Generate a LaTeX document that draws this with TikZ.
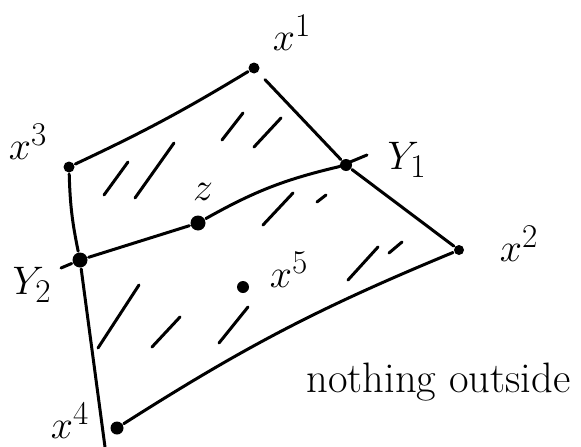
\documentclass[tikz,border=0pt]{standalone}
\usetikzlibrary{positioning}
\newcommand\handlbl[1]{\scalebox{1.6}{$#1$}}

\begin{document}
\begin{tikzpicture}[x=1pt, y=-1pt,
    line width=3pt, line cap=round, line join=round,
    pt/.style={circle, fill, inner sep=0pt, minimum size=11pt},
    lbl/.style={font=\Huge, inner sep=0pt},
    note/.style={font=\Huge, inner sep=0pt, anchor=base west},
    hatch/.style={line width=3pt}]
    \useasboundingbox (0,0) rectangle (581,447);
    \node[pt] (x1) at (254,68) {};
    \node[pt, minimum size=10pt] (x2) at (459,250) {};
    \node[pt] (x3) at (69,167) {};
    \node[pt, minimum size=13pt] (x4) at (117,428) {};
    \node[pt, minimum size=12pt] (x5) at (243,287) {};
    \node[pt, minimum size=12pt] (y1) at (346,165) {};
    \node[pt, minimum size=15pt] (y2) at (80,260) {};
    \node[pt, minimum size=15pt] (z) at (198,223) {};
    \coordinate (y1tick) at (367,155);
    \coordinate (y2tick) at (61,268);
    \coordinate (bot) at (105,447);
    \node[lbl] (lx1) at (292,33) {\handlbl{x^1}};
    \node[lbl] (lx2) at (519,244) {\handlbl{x^2}};
    \node[lbl] (lx3) at (28,142) {\handlbl{x^3}};
    \node[lbl] (lx4) at (70,421) {\handlbl{x^4}};
    \node[lbl] (lx5) at (289,270) {\handlbl{x^5}};
    \node[lbl] (ly1) at (407,160) {\handlbl{Y_1}};
    \node[lbl] (ly2) at (32,285) {\handlbl{Y_2}};
    \node[lbl] (lz) at (203,192) {\handlbl{z}};
    \node[note] (nothing) at (305,392) {\scalebox{1.71}{nothing outside}};
    \draw (x3) to[bend right=3] (x1);
    \draw[shorten <=9pt] (x1) -- (y1);
    \draw (y1) -- (x2);
    \draw (x2) to[bend right=5] (x4);
    \draw (x3) to[bend right=5] (y2);
    \draw (y2) -- (bot);
    \draw (y2tick) -- (y2) -- (z);
    \draw (z) to[bend left=8] (y1) -- (y1tick);
    \foreach \a/\b/\c/\d in {104/195/128/162, 135/198/174/143, 222/140/243/113,
        254/147/281/118, 263/225/293/193, 317/202/326/195, 348/280/378/247,
        389/253/402/242, 98/348/139/285, 152/347/180/317, 219/343/248/307}
      \draw[hatch] (\a,\b) -- (\c,\d);
\end{tikzpicture}
\end{document}
